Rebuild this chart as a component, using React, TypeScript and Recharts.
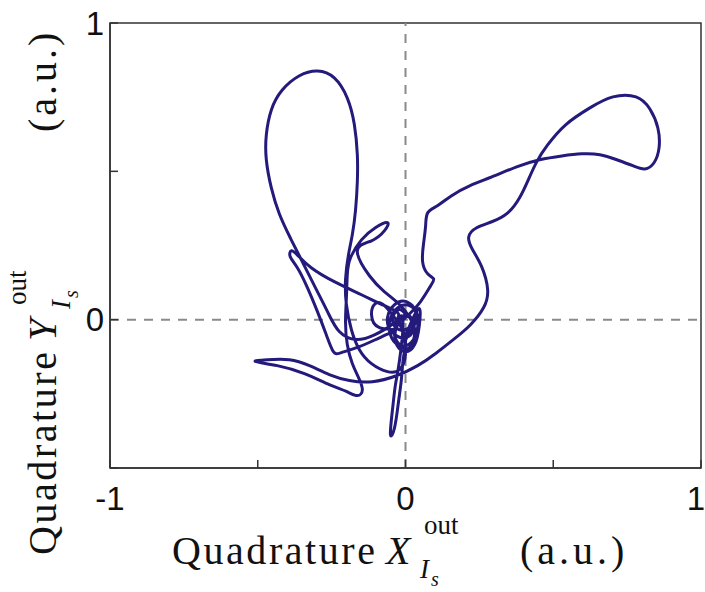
import React from 'react';
import { LineChart, Line, XAxis, YAxis, ReferenceLine, ReferenceArea } from 'recharts';

// Trajectory in the quadrature plane (in a.u.)
const quadX = [
  -0.014, 0.014, 0.051, 0.085, 0.095, 0.075, 0.058, 0.061, 0.068, 0.075,
  0.108, 0.156, 0.217, 0.292, 0.376, 0.454, 0.529, 0.597, 0.658, 0.715,
  0.769, 0.810, 0.841, 0.858, 0.854, 0.827, 0.780, 0.702, 0.624, 0.542,
  0.481, 0.444, 0.414, 0.386, 0.346, 0.292, 0.241, 0.214, 0.227, 0.258,
  0.278, 0.264, 0.220, 0.166, 0.102, 0.041, -0.031, -0.112, -0.190, -0.258,
  -0.325, -0.393, -0.468, -0.508, -0.434, -0.342, -0.258, -0.200, -0.163, -0.146,
  -0.159, -0.180, -0.197, -0.203, -0.200, -0.197, -0.186, -0.149, -0.102, -0.061,
  -0.071, -0.115, -0.163, -0.122, -0.071, -0.020, 0.014, 0.027, -0.003, -0.047,
  -0.061, -0.037, 0.003, 0.034, 0.020, -0.020, -0.044, -0.020, 0.014,
  0.041, 0.027, -0.014, -0.047, -0.054, -0.027, 0.014, 0.041, 0.020,
  -0.003,
  0.041, 0.047, 0.031, -0.003, -0.034, -0.027, 0.007, 0.031, 0.014, -0.020,
  -0.037, -0.010,
  -0.020, -0.034, -0.044, -0.051, -0.037, -0.024, -0.014, -0.007, 0.000, -0.027,
  -0.071, -0.102, -0.115, -0.088, -0.037, -0.088, -0.156, -0.217, -0.244, -0.268,
  -0.298, -0.332, -0.366, -0.390, -0.386, -0.363, -0.319, -0.241, -0.149, -0.071,
  -0.024, -0.047, -0.105, -0.166, -0.224, -0.264, -0.305, -0.349, -0.390, -0.427,
  -0.454, -0.471, -0.471, -0.454, -0.417, -0.359, -0.298, -0.241, -0.197, -0.173,
  -0.163, -0.163, -0.169, -0.180, -0.193, -0.203, -0.200, -0.183, -0.156, -0.115,
  -0.061, -0.020, 0.000, -0.007, -0.020,
];
const quadY = [
  -0.007, 0.020, 0.061, 0.114, 0.138, 0.155, 0.195, 0.256, 0.316, 0.360,
  0.384, 0.418, 0.451, 0.481, 0.515, 0.539, 0.552, 0.559, 0.556, 0.539,
  0.519, 0.508, 0.529, 0.579, 0.646, 0.710, 0.751, 0.751, 0.714, 0.657,
  0.589, 0.532, 0.468, 0.411, 0.360, 0.330, 0.310, 0.279, 0.236, 0.178,
  0.101, 0.040, -0.017, -0.064, -0.114, -0.155, -0.189, -0.209, -0.205, -0.185,
  -0.155, -0.135, -0.135, -0.141, -0.155, -0.182, -0.219, -0.242, -0.256, -0.236,
  -0.195, -0.148, -0.084, -0.007, 0.074, 0.152, 0.209, 0.269, 0.310, 0.327,
  0.300, 0.266, 0.232, 0.148, 0.094, 0.051, 0.007, -0.034, -0.061, -0.040,
  0.007, 0.051, 0.061, 0.027, -0.020, -0.034, 0.000, 0.034, 0.007,
  -0.007, -0.067, -0.088, -0.061, -0.007, 0.040, 0.047, 0.013, -0.034,
  -0.067,
  0.034, -0.017, -0.084, -0.108, -0.074, -0.017, 0.017, -0.034, -0.094, -0.084,
  -0.034, 0.007,
  -0.135, -0.219, -0.303, -0.387, -0.364, -0.279, -0.202, -0.128, -0.061, -0.007,
  0.047, 0.054, 0.017, -0.027, -0.034, -0.061, -0.091, -0.111, -0.108, -0.051,
  0.027, 0.108, 0.175, 0.212, 0.232, 0.215, 0.175, 0.128, 0.084, 0.047,
  0.020, -0.017, -0.051, -0.067, -0.040, 0.027, 0.108, 0.195, 0.276, 0.357,
  0.444, 0.539, 0.623, 0.707, 0.774, 0.822, 0.838, 0.815, 0.747, 0.657,
  0.556, 0.465, 0.370, 0.286, 0.219, 0.135, 0.051, -0.034, -0.101, -0.148,
  -0.175, -0.168, -0.118, -0.051, -0.007,
];

const xTicks = [-1, -0.5, 0, 0.5, 1];
const yTicks = [-0.5, 0, 0.5, 1];
const xTickLabels: Record<string, string> = { '-1': '-1', '0': '0', '1': '1' };
const yTickLabels: Record<string, string> = { '0': '0', '1': '1' };

const data = quadX.map((x, i) => ({ x, y: quadY[i] }));

const SERIF = '"Liberation Serif", "Times New Roman", serif';
const SANS = '"Liberation Sans", Arial, sans-serif';

const XTitle = () => (
  <g fill="#111" fontFamily={SERIF}>
    <text x={172} y={564} fontSize={40} textLength={203} lengthAdjust="spacing">Quadrature</text>
    <text x={386} y={564} fontSize={40} fontStyle="italic">X</text>
    <text x={424} y={534} fontSize={27}>out</text>
    <text x={420} y={578} fontSize={27} fontStyle="italic">I</text>
    <text x={431} y={586} fontSize={20} fontStyle="italic">s</text>
    <text x={520} y={564} fontSize={40} letterSpacing={4}>(a.u.)</text>
  </g>
);

const YTitle = () => (
  <g fill="#111" fontFamily={SERIF} transform="translate(56, 0) rotate(-90)">
    <text x={-555} y={0} fontSize={40} textLength={203} lengthAdjust="spacing">Quadrature</text>
    <text x={-341} y={0} fontSize={40} fontStyle="italic">Y</text>
    <text x={-305} y={-30} fontSize={27}>out</text>
    <text x={-309} y={14} fontSize={27} fontStyle="italic">I</text>
    <text x={-298} y={22} fontSize={20} fontStyle="italic">s</text>
    <text x={-132} y={0} fontSize={40} letterSpacing={3}>(a.u.)</text>
  </g>
);

const XTick = (props: any) => {
  const { x, y, payload } = props;
  const label = xTickLabels[String(payload.value)] ?? '';
  const shift = payload.value === 1 ? -5 : 0;
  return (
    <text x={x + shift} y={y} dy="0.71em" textAnchor="middle" fill="#111" fontSize={33} fontFamily={SANS}>
      {label}
    </text>
  );
};

export default function App() {
  return (
    <div style={{ position: 'absolute', left: 0, top: 0, width: 705, height: 592, background: '#fff' }}>
      <LineChart width={705} height={592} data={data} margin={{ top: 23, right: 4, bottom: 64, left: 50 }}>
        <ReferenceArea x1={-1} x2={1} y1={-0.5} y2={1} fill="none" stroke="#333" strokeWidth={1.5} ifOverflow="visible" />
        <ReferenceLine x={0} stroke="#8a8a8a" strokeWidth={2} strokeDasharray="9 8" />
        <ReferenceLine y={0} stroke="#8a8a8a" strokeWidth={2} strokeDasharray="9 8" />
        <XAxis
          type="number"
          dataKey="x"
          domain={[-1, 1]}
          ticks={xTicks}
          allowDataOverflow
          height={60}
          tickSize={-8}
          tickMargin={27}
          interval={0}
          axisLine={{ stroke: '#333', strokeWidth: 1.5 }}
          tickLine={{ stroke: '#333', strokeWidth: 1.5 }}
          tick={<XTick />}
          label={<XTitle />}
        />
        <YAxis
          type="number"
          dataKey="y"
          domain={[-0.5, 1]}
          ticks={yTicks}
          allowDataOverflow
          width={60}
          tickSize={-8}
          tickMargin={14}
          interval={0}
          tickFormatter={(v: number) => yTickLabels[String(v)] ?? ''}
          axisLine={{ stroke: '#333', strokeWidth: 1.5 }}
          tickLine={{ stroke: '#333', strokeWidth: 1.5 }}
          tick={{ fill: '#111', fontSize: 33, fontFamily: SANS }}
          label={<YTitle />}
        />
        <Line type="natural" dataKey="y" stroke="#231a7c" strokeWidth={3} dot={false} isAnimationActive={false} />
      </LineChart>
    </div>
  );
}
